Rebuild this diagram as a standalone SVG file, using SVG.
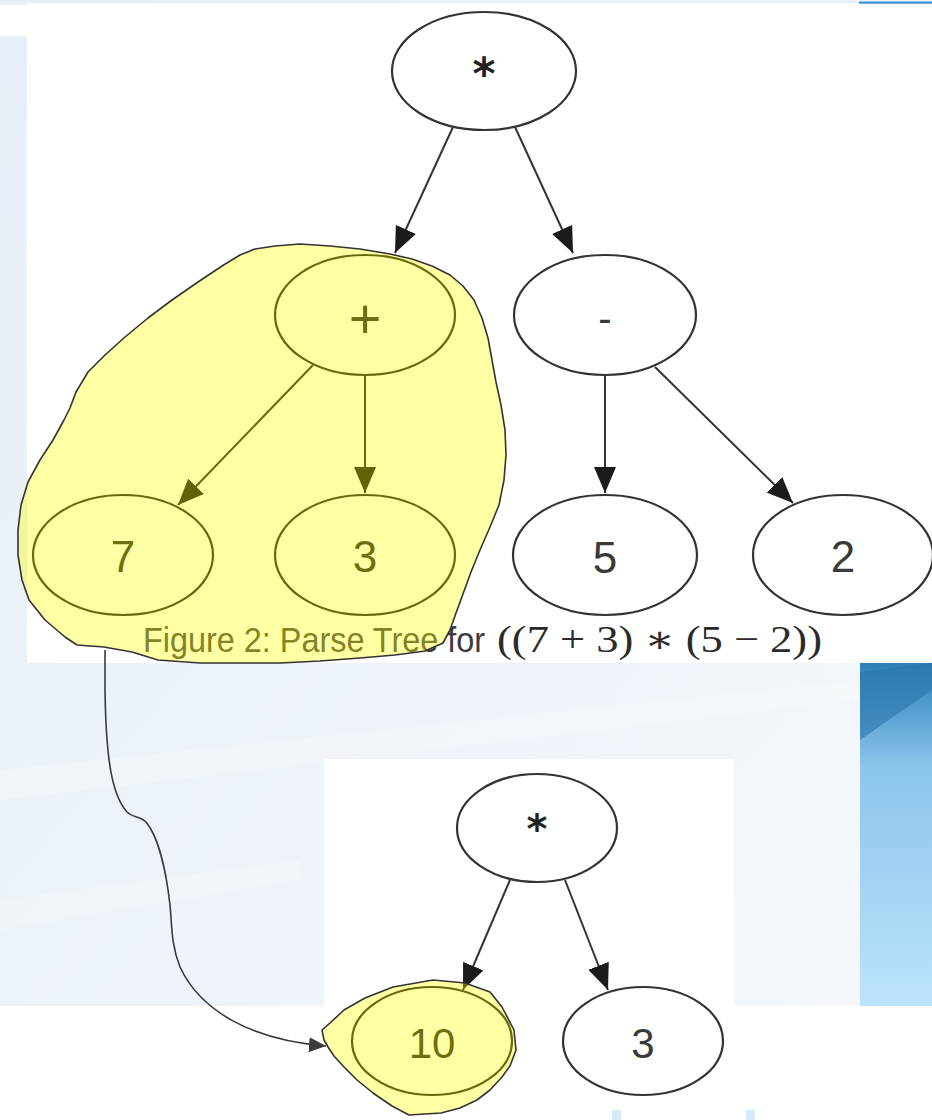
<svg xmlns="http://www.w3.org/2000/svg" width="932" height="1120" viewBox="0 0 932 1120">
<defs>
<linearGradient id="bg" x1="0" y1="0" x2="1" y2="1">
<stop offset="0" stop-color="#e7eff6"/><stop offset="0.6" stop-color="#eef4f9"/><stop offset="1" stop-color="#f5f9fc"/>
</linearGradient>
<linearGradient id="blue" x1="0" y1="0" x2="0" y2="1">
<stop offset="0" stop-color="#2f7fb6"/><stop offset="0.12" stop-color="#4f9ccf"/><stop offset="0.3" stop-color="#8cc4ea"/><stop offset="0.7" stop-color="#a6d6f4"/><stop offset="1" stop-color="#bde4fb"/>
</linearGradient>
<marker id="ah" markerWidth="26" markerHeight="22" refX="26" refY="11" orient="auto" markerUnits="userSpaceOnUse">
<path d="M0,0 L26,11 L0,22 z" fill="#1b1b1b"/>
</marker>
<marker id="ahd" markerWidth="26" markerHeight="22" refX="26" refY="11" orient="auto" markerUnits="userSpaceOnUse">
<path d="M0,0 L26,11 L0,22 z" fill="#0a0a0a"/>
</marker>
<marker id="ah2" markerWidth="17" markerHeight="15" refX="17" refY="7.5" orient="auto" markerUnits="userSpaceOnUse">
<path d="M0,0 L17,7.5 L0,15 z" fill="#3a3a3a"/>
</marker>
<style>
.nd{fill:#fff;stroke:#333;stroke-width:2.2}
.dk{stroke:#141414}
.e{fill:none;stroke:#333;stroke-width:2;marker-end:url(#ah)}
.ed{fill:none;stroke:#141414;stroke-width:2;marker-end:url(#ahd)}
.cv{fill:none;stroke:#3a3a3a;stroke-width:1.6;marker-end:url(#ah2)}
.lbl{font-family:'Liberation Sans',Arial,sans-serif;font-size:44px;fill:#3a3a3a;text-anchor:middle}
.tk{fill:#1c1c1c}
.star{font-family:'DejaVu Sans',sans-serif;font-weight:bold;fill:#222;text-anchor:middle}
.hl{fill:#ffff00;fill-opacity:0.36;stroke:#333;stroke-width:1.6;stroke-linejoin:round}
</style>
</defs>
<g id="background">
<rect x="0" y="0" width="932" height="1120" fill="url(#bg)"/>
<polygon points="0,770 860,680 860,700 0,800" fill="#ffffff" fill-opacity="0.22"/>
<polygon points="0,900 300,860 300,880 0,930" fill="#ffffff" fill-opacity="0.2"/>
<rect x="860" y="663" width="72" height="343" fill="url(#blue)"/>
<polygon points="860,672 932,663 932,690 860,740" fill="#2a74ab" fill-opacity="0.6"/>
<rect x="0" y="5" width="27" height="31" fill="#fff"/>
<rect x="27" y="3" width="905" height="660" fill="#fff"/>
<rect x="324" y="759" width="410" height="260" fill="#fff"/>
<rect x="0" y="1006" width="932" height="114" fill="#fff"/>
<rect x="0" y="0" width="27" height="5" fill="#e6eef6"/>
<rect x="27" y="1.5" width="831" height="1.5" fill="#e4eef7"/>
<rect x="859" y="1.5" width="73" height="2.2" fill="#3a8fd0"/>
<rect x="612" y="1110" width="9" height="10" fill="#d6e9f8"/>
<rect x="746" y="1110" width="9" height="10" fill="#d6e9f8"/>
</g>
<g id="connectors">
<path class="e" d="M453,127 L395,253"/>
<path class="e" d="M515,127 L573,253"/>
<path class="ed" d="M313,365 L178,505"/>
<path class="ed" d="M365,375 L365,493"/>
<path class="e" d="M605,375 L605,493"/>
<path class="e" d="M655,367 L793,503"/>
<path class="e" d="M510,880 L463,990"/>
<path class="e" d="M565,880 L608,990"/>
<path class="cv" d="M105,650 L105,690 C106,760 112,795 127,812 C133,818 140,816 146,822 C158,836 166,870 170,905 C172,925 171,945 180,967 C200,1010 250,1040 326,1046"/>
</g>
<g id="node-mul">
<ellipse class="nd" cx="484" cy="71" rx="92" ry="59"/>
<text class="star" x="484" y="89" font-size="44">*</text>
</g>
<g id="node-plus">
<ellipse class="nd dk" cx="365" cy="315" rx="90" ry="60"/>
<text class="lbl tk" x="365" y="338" style="font-size:56px">+</text>
</g>
<g id="node-minus">
<ellipse class="nd" cx="605" cy="315" rx="91" ry="60"/>
<text class="lbl" x="605" y="332" style="font-size:40px">-</text>
</g>
<g id="node-7">
<ellipse class="nd dk" cx="123" cy="555" rx="90" ry="60"/>
<text class="lbl tk" x="123" y="572">7</text>
</g>
<g id="node-3a">
<ellipse class="nd dk" cx="365" cy="555" rx="90" ry="60"/>
<text class="lbl tk" x="365" y="572">3</text>
</g>
<g id="node-5">
<ellipse class="nd" cx="605" cy="555" rx="92" ry="60"/>
<text class="lbl" x="605" y="573">5</text>
</g>
<g id="node-2">
<ellipse class="nd" cx="843" cy="555" rx="90" ry="60"/>
<text class="lbl" x="843" y="572">2</text>
</g>
<g id="caption">
<text x="143" y="652" font-family="'Liberation Sans',Arial,sans-serif" font-size="35" fill="#3c3c3c" textLength="342" lengthAdjust="spacingAndGlyphs">Figure 2: Parse Tree for</text>
<text x="497" y="652" font-family="'Liberation Serif','DejaVu Serif',serif" font-size="38" fill="#2a2a2a" textLength="325" lengthAdjust="spacingAndGlyphs">((7 + 3) ∗ (5 − 2))</text>
</g>
<g id="node-mul2">
<ellipse class="nd" cx="537" cy="828" rx="80" ry="54"/>
<text class="star" x="537" y="843" font-size="40">*</text>
</g>
<g id="node-10">
<ellipse class="nd dk" cx="432" cy="1041" rx="80" ry="54"/>
<text class="lbl tk" x="432" y="1058" style="font-size:42px">10</text>
</g>
<g id="node-3b">
<ellipse class="nd" cx="643" cy="1041" rx="80" ry="54"/>
<text class="lbl" x="643" y="1058" style="font-size:42px">3</text>
</g>
<g id="highlights">
<polygon class="hl" points="240,255 255,249 275,246 300,244 330,246 360,249 390,254 412,259 432,266 450,275 463,286 474,300 482,318 488,338 492,360 496,382 501,405 505,430 506,455 504,480 499,505 490,527 480,550 471,572 463,594 456,613 450,630 443,643 425,651 395,655 360,658 320,661 280,663 245,663 200,663 158,660 132,652 104,647 77,645 65,637 45,620 29,600 22,580 18,555 18,530 21,505 28,482 40,460 53,440 64,420 70,408 76,392 88,372 105,355 125,337 148,318 172,300 198,282 222,266"/>
<polygon class="hl" points="322,1030 330,1023 344,1010 365,998 393,987 433,980 465,983 490,992 502,1007 514,1030 516,1050 510,1066 502,1077 490,1090 477,1100 460,1108 441,1113 409,1115 392,1106 373,1093 357,1080 344,1067 334,1056 328,1047 324,1040"/>
</g>
</svg>
